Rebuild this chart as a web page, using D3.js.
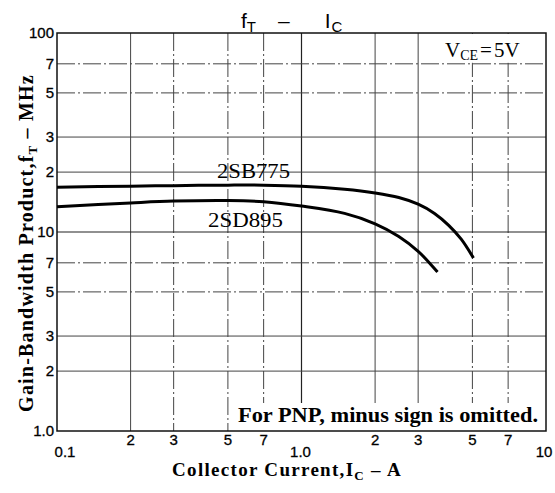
<!DOCTYPE html>
<html><head><meta charset="utf-8">
<script src="https://cdn.jsdelivr.net/npm/d3@7"></script>
<style>body{margin:0;background:#fff}</style>
</head><body>
<script>
const xTicksMinor = [0.2,0.3,0.5,0.7,2,3,5,7];
const xTickLabels = ["2","3","5","7","2","3","5","7"];
const xDecades = [0.1,1,10];
const xDecadeLabels = ["0.1","1.0","10"];
const yTicksMinor = [2,3,5,7,20,30,50,70];
const yTickLabels = ["2","3","5","7","2","3","5","7"];
const yDecades = [1,10,100];
const yDecadeLabels = ["1.0","10","100"];

const ic2SB775 = [0.1,0.2,0.3,0.5,0.7,1.0,1.5,2.0,2.5,3.0,3.5,4.0,4.5,5.05];
const ft2SB775 = [16.8,17.0,17.1,17.2,17.2,17.0,16.4,15.7,14.9,13.8,12.4,10.8,9.2,7.4];
const ic2SD895 = [0.1,0.2,0.3,0.5,0.7,1.0,1.5,2.0,2.5,3.0,3.6];
const ft2SD895 = [13.4,14.0,14.3,14.4,14.2,13.5,12.4,11.0,9.5,8.0,6.3];

const W=555,H=493;
const L=57,R=546,T=33,B=431;
const svg=d3.select("body").append("svg").attr("width",W).attr("height",H);
const x=d3.scaleLog().domain([0.1,10]).range([L,R]);
const y=d3.scaleLog().domain([1,100]).range([B,T]);

const g=svg.append("g");
const solidSet=new Set([0.2,2,3,30,20]);
xTicksMinor.forEach(v=>{
  g.append("line").attr("x1",x(v)).attr("x2",x(v)).attr("y1",T).attr("y2",B)
   .attr("stroke","#444").attr("stroke-width",1)
   .attr("stroke-dasharray",solidSet.has(v)?null:"18,3,2,3");
});
g.append("line").attr("x1",x(1)).attr("x2",x(1)).attr("y1",T).attr("y2",B).attr("stroke","#222").attr("stroke-width",1.2);
yTicksMinor.forEach(v=>{
  g.append("line").attr("x1",L).attr("x2",R).attr("y1",y(v)).attr("y2",y(v))
   .attr("stroke","#444").attr("stroke-width",1)
   .attr("stroke-dasharray",solidSet.has(v)?null:"18,3,2,3");
});
g.append("line").attr("x1",L).attr("x2",R).attr("y1",y(10)).attr("y2",y(10)).attr("stroke","#222").attr("stroke-width",1.2);

// white boxes behind annotations
svg.append("rect").attr("x",x(3)+1).attr("y",T+1).attr("width",R-x(3)-2).attr("height",y(70)-T-2).attr("fill","#fff");
svg.append("rect").attr("x",x(0.5)+2).attr("y",403).attr("width",R-x(0.5)-3).attr("height",B-403).attr("fill","#fff");

// frame
svg.append("rect").attr("x",L).attr("y",T).attr("width",R-L).attr("height",B-T)
  .attr("fill","none").attr("stroke","#111").attr("stroke-width",1.5);

// curves
const line=d3.line().x(d=>x(d[0])).y(d=>y(d[1])).curve(d3.curveCatmullRom.alpha(0.5));
svg.append("path").datum(d3.zip(ic2SB775,ft2SB775)).attr("d",line)
  .attr("fill","none").attr("stroke","#000").attr("stroke-width",3);
svg.append("path").datum(d3.zip(ic2SD895,ft2SD895)).attr("d",line)
  .attr("fill","none").attr("stroke","#000").attr("stroke-width",3);

const serif="'Liberation Serif','DejaVu Serif',serif";
const sans="'Liberation Sans',Arial,sans-serif";

svg.append("text").attr("x",217).attr("y",178).attr("font-family",serif).attr("font-size",20)
  .attr("textLength",73).attr("lengthAdjust","spacingAndGlyphs").text("2SB775");
svg.append("text").attr("x",208).attr("y",227).attr("font-family",serif).attr("font-size",20)
  .attr("textLength",75).attr("lengthAdjust","spacingAndGlyphs").text("2SD895");

// VCE
const vt=svg.append("text").attr("x",445).attr("y",57).attr("font-family",serif).attr("font-size",21);
vt.append("tspan").text("V");
vt.append("tspan").attr("font-size",14).attr("dy",3).text("CE");
vt.append("tspan").attr("dy",-3).attr("dx",2).text("=");
vt.append("tspan").attr("dx",2).text("5V");

svg.append("text").attr("x",238).attr("y",422).attr("font-family",serif).attr("font-size",20)
  .attr("font-weight","bold").attr("textLength",300).attr("lengthAdjust","spacingAndGlyphs")
  .text("For PNP, minus sign is omitted.");

// tick labels
xTicksMinor.forEach((v,i)=>{
  svg.append("text").attr("x",x(v)).attr("y",445).attr("text-anchor","middle")
   .attr("font-family",sans).attr("font-size",15).attr("stroke","#000").attr("stroke-width",0.3)
   .text(xTickLabels[i]);
});
const xDecX=[L+8,x(1)-1,x(10)-2];
xDecades.forEach((v,i)=>{
  svg.append("text").attr("x",xDecX[i]).attr("y",457).attr("text-anchor","middle")
   .attr("font-family",sans).attr("font-size",15).attr("stroke","#000").attr("stroke-width",0.3)
   .text(xDecadeLabels[i]);
});
yTicksMinor.forEach((v,i)=>{
  svg.append("text").attr("x",54).attr("y",y(v)+5).attr("text-anchor","end")
   .attr("font-family",sans).attr("font-size",15).attr("stroke","#000").attr("stroke-width",0.3)
   .text(yTickLabels[i]);
});
yDecades.forEach((v,i)=>{
  svg.append("text").attr("x",54).attr("y",y(v)+5).attr("text-anchor","end")
   .attr("font-family",sans).attr("font-size",15).attr("stroke","#000").attr("stroke-width",0.3)
   .text(yDecadeLabels[i]);
});

// title
const ts=svg.append("text").attr("x",241).attr("y",28).attr("font-family",sans).attr("font-size",21);
ts.append("tspan").text("f");
ts.append("tspan").attr("font-size",15).attr("dy",4).text("T");
ts.append("tspan").attr("dy",-4).attr("dx",22).text("–");
ts.append("tspan").attr("dx",35).text("I");
ts.append("tspan").attr("font-size",15).attr("dy",4).attr("dx",1).text("C");

// axis titles
const xt=svg.append("text").attr("x",287).attr("y",476).attr("text-anchor","middle")
  .attr("font-family",serif).attr("font-size",19).attr("font-weight","bold").attr("letter-spacing",1.3);
xt.append("tspan").text("Collector Current,I");
xt.append("tspan").attr("font-size",13).attr("dy",4).text("C");
xt.append("tspan").attr("dy",-4).text(" – A");

const yt=svg.append("text").attr("transform","translate(33,243) rotate(-90)").attr("text-anchor","middle")
  .attr("font-family",serif).attr("font-size",20).attr("font-weight","bold").attr("letter-spacing",1.2);
yt.append("tspan").text("Gain-Bandwidth Product,f");
yt.append("tspan").attr("font-size",13).attr("dy",4).text("T");
yt.append("tspan").attr("dy",-4).text(" – MHz");
</script>
</body></html>
